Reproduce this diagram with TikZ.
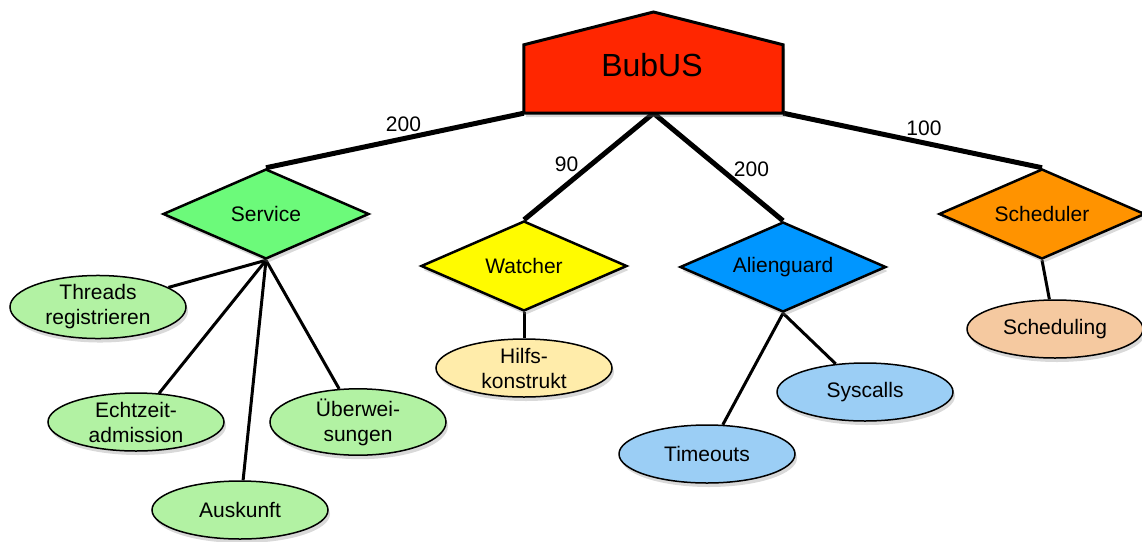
\documentclass[tikz,border=0pt]{standalone}
\usepackage{fontspec}
\setmainfont{Liberation Sans}
\usetikzlibrary{shapes.geometric,shadows}
\definecolor{bubred}{RGB}{255,38,0}
\definecolor{svgreen}{RGB}{108,250,122}
\definecolor{wyellow}{RGB}{255,251,0}
\definecolor{agblue}{RGB}{0,150,255}
\definecolor{schorange}{RGB}{255,147,0}
\definecolor{lgreen}{RGB}{178,242,163}
\definecolor{lyellow}{RGB}{255,236,170}
\definecolor{lblue}{RGB}{155,206,245}
\definecolor{lpeach}{RGB}{245,201,160}
\pgfdeclarelayer{bg}
\pgfsetlayers{bg,main}
\begin{document}
\begin{tikzpicture}[x=1pt,y=-1pt,
  shad/.style={drop shadow={opacity=0.3,shadow xshift=2pt,shadow yshift=-4pt}},
  dia/.style={diamond, draw=black, line width=2.5pt, minimum width=206pt, minimum height=90pt, aspect=2.26, inner sep=0pt, font=\fontsize{21}{25}\selectfont, shad},
  ell/.style={ellipse, draw=black, line width=1.5pt, minimum width=176pt, minimum height=58pt, inner sep=0pt, align=center, font=\fontsize{21}{25}\selectfont, shad},
  biglink/.style={line width=5pt},
  link/.style={line width=3pt},
  lbl/.style={font=\fontsize{21}{24}\selectfont, inner sep=0pt}
]
\useasboundingbox (0,0) rectangle (1142,541);

% root
\node[minimum width=259pt, minimum height=68pt, inner sep=0pt] (bub) at (653.5,79) {};
\coordinate (apex) at (653.5,12);
\filldraw[fill=bubred, draw=black, line width=3pt, line join=miter, shad]
  (bub.south west) -- (bub.north west) -- (apex) -- (bub.north east) -- (bub.south east) -- cycle;
\node[font=\fontsize{32}{36}\selectfont, inner sep=0pt] (bubtext) at (652,65) {BubUS};

% diamonds
\node[dia, fill=svgreen] (service) at (266,214) {Service};
\node[dia, fill=wyellow] (watcher) at (524,266) {Watcher};
\node[dia, fill=agblue] (alien) at (783,267) {Alienguard};
\node[dia, fill=schorange] (sched) at (1042,214) {Scheduler};

% ellipses
\node[ell, fill=lgreen] (threads) at (98,307) {Threads\\registrieren};
\node[ell, fill=lgreen] (echt) at (136,422) {Echtzeit-\\admission};
\node[ell, fill=lgreen] (ueber) at (358,422) {Überwei-\\sungen};
\node[ell, fill=lgreen] (ausk) at (240,510) {Auskunft};
\node[ell, fill=lyellow] (hilfs) at (524,368) {Hilfs-\\konstrukt};
\node[ell, fill=lblue] (timeouts) at (707,454) {Timeouts};
\node[ell, fill=lblue] (syscalls) at (865,392) {Syscalls};
\node[ell, fill=lpeach] (scheduling) at (1055,329) {Scheduling};

% weights
\node[lbl] (w1) at (403.5,124.5) {200};
\node[lbl] (w2) at (566.5,164.5) {90};
\node[lbl] (w3) at (751.5,169.5) {200};
\node[lbl] (w4) at (924,128.5) {100};

\begin{pgfonlayer}{bg}
\draw[biglink] (bub.south west) -- (service.north);
\draw[biglink] (bub.south) -- (watcher.north);
\draw[biglink] (bub.south) -- (alien.north);
\draw[biglink] (bub.south east) -- (sched.north);
\draw[link] (service.south) -- (threads);
\draw[link] (service.south) -- (echt);
\draw[link] (service.south) -- (ausk);
\draw[link] (service.south) -- (ueber);
\draw[link] (watcher.south) -- (hilfs);
\draw[link] (alien.south) -- (timeouts);
\draw[link] (alien.south) -- (syscalls);
\draw[link] (sched.south) -- (scheduling);
\end{pgfonlayer}
\end{tikzpicture}
\end{document}
